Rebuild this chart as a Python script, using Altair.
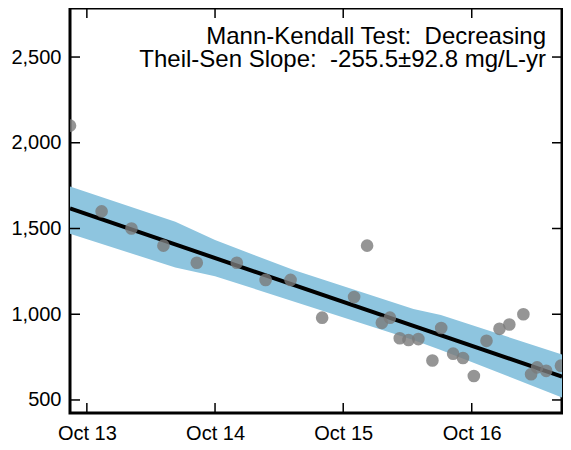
import altair as alt
import pandas as pd

# --- data ---
sample_dates = [
    "2013-08-14", "2013-11-12", "2014-02-05", "2014-05-07", "2014-08-10",
    "2014-12-02", "2015-02-22", "2015-05-04", "2015-08-02", "2015-11-01",
    "2015-12-08", "2016-01-19", "2016-02-11", "2016-03-10", "2016-04-04",
    "2016-05-02", "2016-06-11", "2016-07-06", "2016-08-09", "2016-09-06",
    "2016-10-07", "2016-11-12", "2016-12-19", "2017-01-16", "2017-02-25",
    "2017-03-19", "2017-04-05", "2017-05-01", "2017-06-12",
]
sample_values = [
    2100, 1600, 1500, 1400, 1300,
    1300, 1200, 1200, 980, 1100,
    1400, 950, 980, 860, 850,
    855, 730, 920, 770, 745,
    640, 845, 915, 940, 1000,
    650, 690, 670, 700,
]

trend_dates = ["2013-08-14", "2017-06-15"]
trend_values = [1617, 636]

band_dates = ["2013-08-14", "2014-06-10", "2014-10-01", "2015-05-15",
              "2016-04-18", "2016-07-05", "2017-06-15"]
band_upper = [1745, 1540, 1433, 1256, 1030, 996, 765]
band_lower = [1470, 1272, 1222, 1073, 850, 792, 515]

y_ticks = [500, 1000, 1500, 2000, 2500]
x_ticks = ["2013-10-01", "2014-10-01", "2015-10-01", "2016-10-01"]

annotation = ["Mann-Kendall Test:\u00a0 Decreasing",
              "Theil-Sen Slope:\u00a0 -255.5\u00b192.8 mg/L-yr"]

# --- tables ---
pts = pd.DataFrame({"date": sample_dates, "value": sample_values})
trend = pd.DataFrame({"date": trend_dates, "value": trend_values})
band = pd.DataFrame({"date": band_dates, "upper": band_upper, "lower": band_lower})
yt = pd.DataFrame({"v": y_ticks})
xt = pd.DataFrame({"d": x_ticks})

W, H = 492, 405
FONT = "Liberation Sans"

xscale = alt.Scale(type="utc",
                   domain=[alt.DateTime(year=2013, month=8, date=14, utc=True),
                           alt.DateTime(year=2017, month=6, date=15, utc=True)])
yscale = alt.Scale(domain=[424, 2786], nice=False, zero=False)

xaxis = alt.Axis(title=None,
                 values=[alt.DateTime(year=int(d[:4]), month=10, date=1, utc=True) for d in x_ticks],
                 labelExpr="utcFormat(datum.value, '%b %y')",
                 domain=False, ticks=False, grid=False,
                 labelFont=FONT, labelFontSize=20, labelColor="black", labelPadding=10)
yaxis = alt.Axis(title=None, values=y_ticks,
                 labelExpr="format(datum.value, ',')",
                 domain=False, ticks=False, grid=False,
                 labelFont=FONT, labelFontSize=20, labelColor="black", labelPadding=9)

X = lambda f: alt.X(f, type="temporal", scale=xscale, axis=xaxis)
Y = lambda f: alt.Y(f, type="quantitative", scale=yscale, axis=yaxis)

band_layer = alt.Chart(band).mark_area(color="#8ec5df", opacity=1, clip=True).encode(
    x=X("date"), y=Y("upper"), y2="lower")

trend_layer = alt.Chart(trend).mark_line(color="black", strokeWidth=4, clip=True).encode(
    x=X("date"), y=Y("value"))

pts_layer = alt.Chart(pts).mark_circle(size=160, color="#7a7a7a", opacity=0.8, clip=True).encode(
    x=X("date"), y=Y("value"))

tick_style = dict(color="black", strokeWidth=1.5)
ytick_left = alt.Chart(yt).mark_rule(**tick_style).encode(
    y=Y("v"), x=alt.value(0), x2=alt.value(10))
ytick_right = alt.Chart(yt).mark_rule(**tick_style).encode(
    y=Y("v"), x=alt.value(W - 10), x2=alt.value(W))
xtick_bottom = alt.Chart(xt).mark_rule(**tick_style).encode(
    x=X("d"), y=alt.value(H - 10), y2=alt.value(H))
xtick_top = alt.Chart(xt).mark_rule(**tick_style).encode(
    x=X("d"), y=alt.value(0), y2=alt.value(10))

text_layer = alt.Chart(pd.DataFrame({"t": [0]})).mark_text(
    align="right", baseline="alphabetic", font=FONT, fontSize=24, lineHeight=23, color="black"
).encode(x=alt.value(476), y=alt.value(36), text=alt.value(annotation))

chart = alt.layer(
    band_layer, trend_layer, pts_layer,
    ytick_left, ytick_right, xtick_bottom, xtick_top, text_layer,
).properties(
    width=W, height=H,
    autosize=alt.AutoSizeParams(type="none"),
    padding={"left": 62, "top": 0, "right": 1, "bottom": 29},
).configure_view(stroke="black", strokeWidth=3)

chart.save("out.html", embed_options={"renderer": "svg", "actions": False})
